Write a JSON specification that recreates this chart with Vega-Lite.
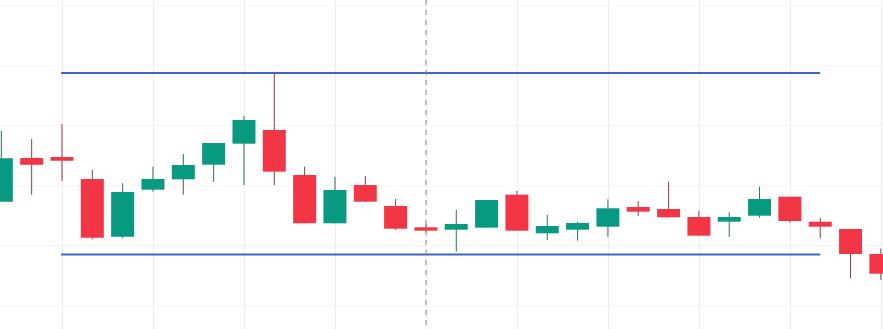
{
  "$schema": "https://vega.github.io/schema/vega-lite/v6.json",
  "width": 883,
  "height": 329,
  "padding": 0,
  "autosize": "none",
  "background": "#ffffff",
  "config": {"view": {"stroke": null}},
  "datasets": {
    "candles": [
      {"k": 0, "open": 110.33, "high": 117.43, "low": 110.33, "close": 114.67, "dir": "up"},
      {"k": 1, "open": 114.7, "high": 116.6, "low": 111.03, "close": 114.03, "dir": "down"},
      {"k": 2, "open": 114.8, "high": 118.1, "low": 112.4, "close": 114.43, "dir": "down"},
      {"k": 3, "open": 112.6, "high": 113.53, "low": 106.57, "close": 106.73, "dir": "down"},
      {"k": 4, "open": 106.83, "high": 112.17, "low": 106.67, "close": 111.3, "dir": "up"},
      {"k": 5, "open": 111.53, "high": 113.83, "low": 111.33, "close": 112.6, "dir": "up"},
      {"k": 6, "open": 112.57, "high": 115.1, "low": 111.03, "close": 114.0, "dir": "up"},
      {"k": 7, "open": 114.03, "high": 116.2, "low": 112.3, "close": 116.2, "dir": "up"},
      {"k": 8, "open": 116.13, "high": 118.9, "low": 112.0, "close": 118.5, "dir": "up"},
      {"k": 9, "open": 117.5, "high": 123.33, "low": 112.0, "close": 113.33, "dir": "down"},
      {"k": 10, "open": 113.0, "high": 113.83, "low": 108.17, "close": 108.17, "dir": "down"},
      {"k": 11, "open": 108.17, "high": 112.83, "low": 108.17, "close": 111.5, "dir": "up"},
      {"k": 12, "open": 112.0, "high": 112.9, "low": 110.33, "close": 110.33, "dir": "down"},
      {"k": 13, "open": 109.9, "high": 110.6, "low": 107.5, "close": 107.63, "dir": "down"},
      {"k": 14, "open": 107.77, "high": 108.1, "low": 107.3, "close": 107.43, "dir": "down"},
      {"k": 15, "open": 107.53, "high": 109.5, "low": 105.33, "close": 108.1, "dir": "up"},
      {"k": 16, "open": 107.73, "high": 110.5, "low": 107.73, "close": 110.5, "dir": "up"},
      {"k": 17, "open": 111.03, "high": 111.4, "low": 107.43, "close": 107.43, "dir": "down"},
      {"k": 18, "open": 107.17, "high": 109.0, "low": 106.5, "close": 107.9, "dir": "up"},
      {"k": 19, "open": 107.53, "high": 108.33, "low": 106.43, "close": 108.2, "dir": "up"},
      {"k": 20, "open": 107.83, "high": 110.57, "low": 106.83, "close": 109.67, "dir": "up"},
      {"k": 21, "open": 109.8, "high": 110.4, "low": 108.93, "close": 109.33, "dir": "down"},
      {"k": 22, "open": 109.6, "high": 112.33, "low": 108.77, "close": 108.77, "dir": "down"},
      {"k": 23, "open": 108.8, "high": 109.4, "low": 106.93, "close": 106.93, "dir": "down"},
      {"k": 24, "open": 108.33, "high": 109.27, "low": 106.83, "close": 108.8, "dir": "up"},
      {"k": 25, "open": 108.93, "high": 111.83, "low": 108.73, "close": 110.6, "dir": "up"},
      {"k": 26, "open": 110.83, "high": 110.83, "low": 108.23, "close": 108.4, "dir": "down"},
      {"k": 27, "open": 108.33, "high": 108.73, "low": 106.67, "close": 107.83, "dir": "down"},
      {"k": 28, "open": 107.6, "high": 107.6, "low": 102.7, "close": 105.1, "dir": "down"},
      {"k": 29, "open": 105.1, "high": 105.65, "low": 102.5, "close": 103.13, "dir": "down"}
    ],
    "levels": [
      {"from": 1.97, "to": 27, "price": 123.2},
      {"from": 1.97, "to": 27, "price": 105.05}
    ],
    "cursor": [
      {"k": 14}
    ]
  },
  "layer": [
    {
      "data": {"name": "candles"},
      "mark": {"type": "rule", "strokeWidth": 1},
      "encoding": {
        "x": {
          "field": "k", "type": "quantitative",
          "scale": {"domain": [-0.044, 29.07], "nice": false, "zero": false, "padding": 0},
          "axis": {"values": [2, 5, 8, 11, 14, 17, 20, 23, 26, 29], "labels": false, "ticks": false, "domain": false, "title": null, "grid": true, "gridColor": "#ebebeb", "gridWidth": 1}
        },
        "y": {
          "field": "low", "type": "quantitative",
          "scale": {"domain": [97.6, 130.5], "nice": false, "zero": false, "padding": 0},
          "axis": {"values": [100, 103, 106, 109, 112, 115, 118, 121, 124, 127, 130], "labels": false, "ticks": false, "domain": false, "title": null, "grid": true, "gridColor": "#f4f4f4", "gridWidth": 1}
        },
        "y2": {"field": "high"},
        "color": {"condition": {"test": "datum.dir === 'up'", "value": "#2d6e60"}, "value": "#8b3a43"}
      }
    },
    {
      "data": {"name": "candles"},
      "mark": {"type": "bar", "size": 23},
      "encoding": {
        "x": {"field": "k", "type": "quantitative"},
        "y": {"field": "open", "type": "quantitative"},
        "y2": {"field": "close"},
        "color": {"condition": {"test": "datum.dir === 'up'", "value": "#089981"}, "value": "#f23645"}
      }
    },
    {
      "data": {"name": "levels"},
      "mark": {"type": "rule", "strokeWidth": 2, "color": "#3d66c4"},
      "encoding": {
        "x": {"field": "from", "type": "quantitative"},
        "x2": {"field": "to"},
        "y": {"field": "price", "type": "quantitative"}
      }
    },
    {
      "data": {"name": "cursor"},
      "mark": {"type": "rule", "strokeWidth": 1, "color": "#8a8a8a", "strokeDash": [5, 5]},
      "encoding": {
        "x": {"field": "k", "type": "quantitative"}
      }
    }
  ]
}
